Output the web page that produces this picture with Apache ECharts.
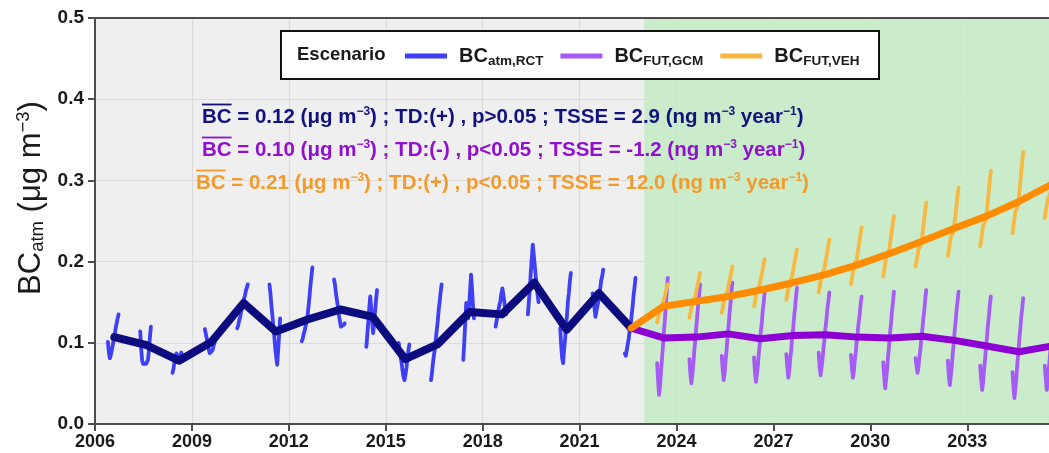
<!DOCTYPE html>
<html><head><meta charset="utf-8">
<script src="https://cdn.jsdelivr.net/npm/echarts@6/dist/echarts.min.js"></script>
<style>html,body{margin:0;padding:0;background:#fff}#c{width:1049px;height:453px}</style>
</head><body><div id="c"></div>
<script>
// ---------- DATA ----------
const yearsRCT = [2006,2007,2008,2009,2010,2011,2012,2013,2014,2015,2016,2017,2018,2019,2020,2021,2022];
const rctAnnual = [0.107,0.097,0.078,0.101,0.149,0.114,0.129,0.141,0.132,0.080,0.098,0.138,0.135,0.174,0.116,0.161,0.118];
const rctMonthly = [
  [0.101,0.088,0.081,0.085,0.091,0.097,0.105,0.110,0.118,0.124,0.130,0.135],
  [0.114,0.092,0.078,0.074,0.073,0.072,0.074,0.076,0.079,0.091,0.107,0.120],
  [0.063,0.068,0.076,0.082,0.087,0.083,0.078,0.081,0.085,0.088,0.084,0.080],
  [0.117,0.111,0.105,0.099,0.092,0.087,0.085,0.086,0.091,0.096,0.100,0.104],
  [0.118,0.121,0.127,0.131,0.138,0.142,0.147,0.154,0.158,0.164,0.168,0.172],
  [0.172,0.161,0.146,0.134,0.120,0.108,0.093,0.082,0.073,0.091,0.111,0.130],
  [0.102,0.105,0.111,0.115,0.121,0.126,0.134,0.145,0.157,0.171,0.182,0.193],
  [0.178,0.171,0.160,0.152,0.144,0.134,0.127,0.120,0.118,0.119,0.122,0.124],
  [0.095,0.111,0.126,0.143,0.157,0.141,0.124,0.112,0.126,0.139,0.153,0.165],
  [0.100,0.091,0.083,0.075,0.065,0.058,0.054,0.061,0.069,0.081,0.090,0.098],
  [0.054,0.063,0.075,0.084,0.093,0.105,0.116,0.127,0.141,0.151,0.163,0.172],
  [0.079,0.101,0.124,0.149,0.139,0.130,0.146,0.164,0.184,0.166,0.146,0.130],
  [0.120,0.127,0.132,0.141,0.147,0.152,0.161,0.167,0.159,0.151,0.141,0.135],
  [0.135,0.151,0.167,0.187,0.204,0.221,0.209,0.196,0.183,0.170,0.159,0.150],
  [0.118,0.097,0.081,0.075,0.091,0.104,0.121,0.134,0.151,0.162,0.176,0.186],
  [0.161,0.151,0.143,0.132,0.139,0.145,0.151,0.161,0.167,0.177,0.182,0.190],
  [0.087,0.084,0.091,0.098,0.105,0.115,0.121,0.134,0.144,0.158,0.168,0.180]
];
const yearsFUT = [2022,2023,2024,2025,2026,2027,2028,2029,2030,2031,2032,2033,2034,2035];
const gcmAnnual = [0.118,0.106,0.107,0.111,0.105,0.109,0.110,0.107,0.106,0.108,0.103,0.096,0.089,0.096];
const vehAnnual = [0.118,0.145,0.151,0.157,0.165,0.174,0.184,0.196,0.210,0.225,0.241,0.256,0.274,0.295];
const yearsFUTm = [2023,2024,2025,2026,2027,2028,2029,2030,2031,2032,2033,2034,2035];
const gcmMonthly = [
  [0.075,0.053,0.036,0.047,0.065,0.080,0.096,0.114,0.129,0.148,0.163,0.180],
  [0.080,0.061,0.050,0.061,0.073,0.090,0.103,0.119,0.132,0.148,0.159,0.172],
  [0.084,0.067,0.054,0.063,0.079,0.091,0.108,0.120,0.136,0.148,0.163,0.174],
  [0.082,0.063,0.052,0.062,0.073,0.088,0.099,0.114,0.125,0.140,0.150,0.163],
  [0.086,0.070,0.057,0.065,0.080,0.091,0.106,0.117,0.132,0.143,0.157,0.168],
  [0.088,0.070,0.060,0.070,0.080,0.094,0.104,0.118,0.128,0.142,0.151,0.162],
  [0.085,0.069,0.057,0.065,0.079,0.089,0.103,0.113,0.126,0.135,0.148,0.157],
  [0.076,0.057,0.044,0.056,0.068,0.084,0.096,0.112,0.124,0.139,0.150,0.163],
  [0.081,0.071,0.063,0.070,0.083,0.092,0.106,0.116,0.130,0.140,0.154,0.165],
  [0.078,0.059,0.048,0.059,0.071,0.087,0.099,0.115,0.126,0.141,0.151,0.163],
  [0.072,0.055,0.042,0.051,0.067,0.079,0.095,0.107,0.122,0.133,0.147,0.157],
  [0.064,0.045,0.032,0.044,0.057,0.074,0.087,0.104,0.116,0.132,0.142,0.155],
  [0.072,0.056,0.042,0.051,0.067,0.079,0.095,0.107,0.123,0.135,0.150,0.160]
];
const vehMonthly = [
  [0.125,0.130,0.136,0.142,0.144,0.146,0.148,0.153,0.158,0.163,0.168,0.172],
  [0.131,0.137,0.143,0.150,0.152,0.154,0.157,0.163,0.169,0.175,0.181,0.186],
  [0.137,0.143,0.150,0.157,0.159,0.161,0.164,0.170,0.176,0.182,0.188,0.194],
  [0.145,0.151,0.158,0.165,0.167,0.170,0.173,0.179,0.185,0.191,0.197,0.203],
  [0.153,0.160,0.167,0.174,0.176,0.179,0.182,0.189,0.196,0.202,0.209,0.215],
  [0.162,0.169,0.176,0.184,0.186,0.189,0.192,0.199,0.206,0.213,0.220,0.227],
  [0.172,0.179,0.187,0.195,0.197,0.200,0.203,0.211,0.219,0.227,0.235,0.242],
  [0.182,0.190,0.198,0.206,0.208,0.211,0.214,0.222,0.231,0.239,0.248,0.256],
  [0.194,0.200,0.207,0.215,0.217,0.219,0.222,0.232,0.243,0.253,0.263,0.273],
  [0.207,0.214,0.222,0.230,0.232,0.235,0.238,0.249,0.259,0.270,0.281,0.291],
  [0.219,0.227,0.235,0.244,0.246,0.249,0.252,0.264,0.276,0.288,0.300,0.312],
  [0.235,0.244,0.253,0.262,0.264,0.267,0.271,0.284,0.297,0.310,0.322,0.335],
  [0.254,0.262,0.270,0.276,0.279,0.282,0.286,0.300,0.314,0.328,0.344,0.358]
];
const yTicks = [0.0,0.1,0.2,0.3,0.4,0.5];
const futureStart = 2023;
// time placement of the points inside each year (as in the source figure)
const MONTH_START = 0.40, MONTH_STEP = 0.03, ANNUAL_AT = 0.6;

// ---------- BUILD ----------
function monthlyData(years, arr){
  const out=[];
  years.forEach((y,i)=>{ arr[i].forEach((v,m)=>out.push([y+MONTH_START+m*MONTH_STEP, v])); out.push([y+0.9,'-']); });
  return out;
}
function annualData(years, arr){ return years.map((y,i)=>[y+ANNUAL_AT, arr[i]]); }

const FONT = 'Liberation Sans, Arial, sans-serif';
const C = {
  rctM:'#3f3ff6', rctA:'#0c0c7e',
  gcmM:'#a55bf4', gcmA:'#8c00d4',
  vehM:'#f6b843', vehA:'#ff8c00',
  t1:'#12127e', t2:'#9010d0', t3:'#f39a2c'
};
const XMIN=2006, XMAX=2035.53;

function lineSeries(name, data, color, width, z){
  return {type:'line', name, data, symbol:'none', showSymbol:false, silent:true, animation:false,
    connectNulls:false, z, itemStyle:{color}, lineStyle:{color, width, cap:'round', join:'round'}};
}

const chart = echarts.init(document.getElementById('c'), null, {renderer:'canvas'});

// text measuring (layout only)
const cv = document.createElement('canvas').getContext('2d');
function tw(txt, size, weight){ cv.font = `${weight||'bold'} ${size}px ${FONT}`; return cv.measureText(txt).width; }

const annLines = [
  {x:202, y:117, color:C.t1, v:'0.12', td:'(+)', p:'p>0.05', tsse:'2.9'},
  {x:202, y:150, color:C.t2, v:'0.10', td:'(-)', p:'p<0.05', tsse:'-1.2'},
  {x:196, y:183, color:C.t3, v:'0.21', td:'(+)', p:'p<0.05', tsse:'12.0'}
];
function lineWidth(L, f){
  const s = Math.round(f*0.6);
  return tw(`BC = ${L.v} (μg m`, f)+tw('−3', s)+tw(`) ; TD:${L.td} , ${L.p} ; TSSE = ${L.tsse} (ng m`, f)+tw('−3', s)+tw(' year', f)+tw('−1', s)+tw(')', f);
}
let AF = 17; AF = Math.round(AF*598/lineWidth(annLines[0], AF)*2)/2;
const SF = Math.round(AF*0.6);
const graphics = [];
annLines.forEach(L=>{
  graphics.push({type:'text', z:10, x:L.x, y:L.y, silent:true, style:{
    text:`{t|BC = ${L.v} (μg m}{s|−3}{t|) ; TD:${L.td} , ${L.p} ; TSSE = ${L.tsse} (ng m}{s|−3}{t| year}{s|−1}{t|)}`,
    textVerticalAlign:'middle', textAlign:'left',
    rich:{ t:{fontSize:AF, fontWeight:'bold', fontFamily:FONT, fill:L.color, lineHeight:22},
           s:{fontSize:SF, fontWeight:'bold', fontFamily:FONT, fill:L.color, lineHeight:10, verticalAlign:'top'} }
  }});
  const w = tw('BC', AF, 'bold');
  graphics.push({type:'line', z:10, silent:true, shape:{x1:L.x, y1:L.y-12.5, x2:L.x+w, y2:L.y-12.5}, style:{stroke:L.color, lineWidth:1.8}});
});
// legend frame and title
graphics.push({type:'rect', z:3, silent:true, shape:{x:281, y:31, width:598, height:48}, style:{fill:'#fff', stroke:'#111', lineWidth:2}});
graphics.push({type:'text', z:5, silent:true, x:297, y:55, style:{text:'Escenario', font:`bold 18.5px ${FONT}`, fill:'#1a1a1a', textVerticalAlign:'middle'}});
// y axis title
graphics.push({type:'text', z:5, silent:true, x:31, y:198, rotation:Math.PI/2, style:{
  text:'{a|BC}{s|atm}{a| (μg m}{p|−3}{a|)}', textAlign:'center', textVerticalAlign:'middle',
  rich:{ a:{fontSize:31, fontFamily:FONT, fill:'#1a1a1a', lineHeight:33},
         s:{fontSize:18.5, fontFamily:FONT, fill:'#1a1a1a', lineHeight:14, verticalAlign:'bottom'},
         p:{fontSize:18.5, fontFamily:FONT, fill:'#1a1a1a', lineHeight:14, verticalAlign:'top'} }
}});

const legendNames = {rct:'{a|BC}{b|atm,RCT}', gcm:'{a|BC}{b|FUT,GCM}', veh:'{a|BC}{b|FUT,VEH}'};
const axisCol = '#4d4d4d';

chart.setOption({
  animation:false,
  backgroundColor:'#fff',
  grid:{left:95, right:0, top:18, bottom:29, show:true, backgroundColor:'#efefef', borderWidth:0},
  xAxis:[{type:'value', min:XMIN, max:XMAX, interval:3,
    axisLine:{show:true, lineStyle:{color:axisCol, width:2}},
    axisTick:{show:true, length:7, lineStyle:{color:axisCol, width:2}},
    axisLabel:{show:true, margin:9, fontSize:18, fontWeight:'bold', fontFamily:FONT, color:'#1a1a1a', showMaxLabel:false,
      formatter:v=>Number.isInteger(v)?String(v):''},
    splitLine:{show:true, lineStyle:{color:'#dadada', width:1.2}}},
   {type:'value', position:'top', min:XMIN, max:XMAX, interval:3,
    axisLine:{show:true, lineStyle:{color:axisCol, width:2}}, axisTick:{show:false}, axisLabel:{show:false}, splitLine:{show:false}}],
  yAxis:{type:'value', min:0, max:0.5, interval:0.1,
    axisLine:{show:true, lineStyle:{color:axisCol, width:2}},
    axisTick:{show:true, length:7, lineStyle:{color:axisCol, width:2}},
    axisLabel:{margin:11, fontSize:19, fontWeight:'bold', fontFamily:FONT, color:'#1a1a1a',
      formatter:v=>{ const t=yTicks.find(k=>Math.abs(k-v)<1e-9); return t===undefined?'':t.toFixed(1); }},
    splitLine:{show:true, lineStyle:{color:'#dadada', width:1.2}}},
  legend:{show:true, left:400, top:41, z:6, icon:'rect', itemWidth:42, itemHeight:5, itemGap:17, selectedMode:false,
    data:['rct','gcm','veh'], formatter:n=>legendNames[n],
    textStyle:{rich:{ a:{fontSize:20, fontWeight:'bold', fontFamily:FONT, color:'#1a1a1a', lineHeight:24, padding:[0,0,0,7]},
                      b:{fontSize:13.5, fontWeight:'bold', fontFamily:FONT, color:'#1a1a1a', lineHeight:13, verticalAlign:'bottom'} }}},
  graphic:graphics,
  series:[
    {type:'line', name:'bg', data:[], silent:true, z:1, markArea:{silent:true, itemStyle:{color:'rgba(196,235,196,0.85)'},
      data:[[{xAxis:futureStart, yAxis:0.0013},{xAxis:XMAX, yAxis:0.4987}]]}},
    lineSeries('rct', monthlyData(yearsRCT, rctMonthly), C.rctM, 3.8, 2),
    lineSeries('rctA', annualData(yearsRCT, rctAnnual), C.rctA, 8, 3),
    lineSeries('gcm', monthlyData(yearsFUTm, gcmMonthly), C.gcmM, 3.8, 2),
    lineSeries('veh', monthlyData(yearsFUTm, vehMonthly), C.vehM, 3.8, 2),
    lineSeries('gcmA', annualData(yearsFUT, gcmAnnual), C.gcmA, 7, 3),
    lineSeries('vehA', annualData(yearsFUT, vehAnnual), C.vehA, 7, 3)
  ]
});
</script></body></html>
